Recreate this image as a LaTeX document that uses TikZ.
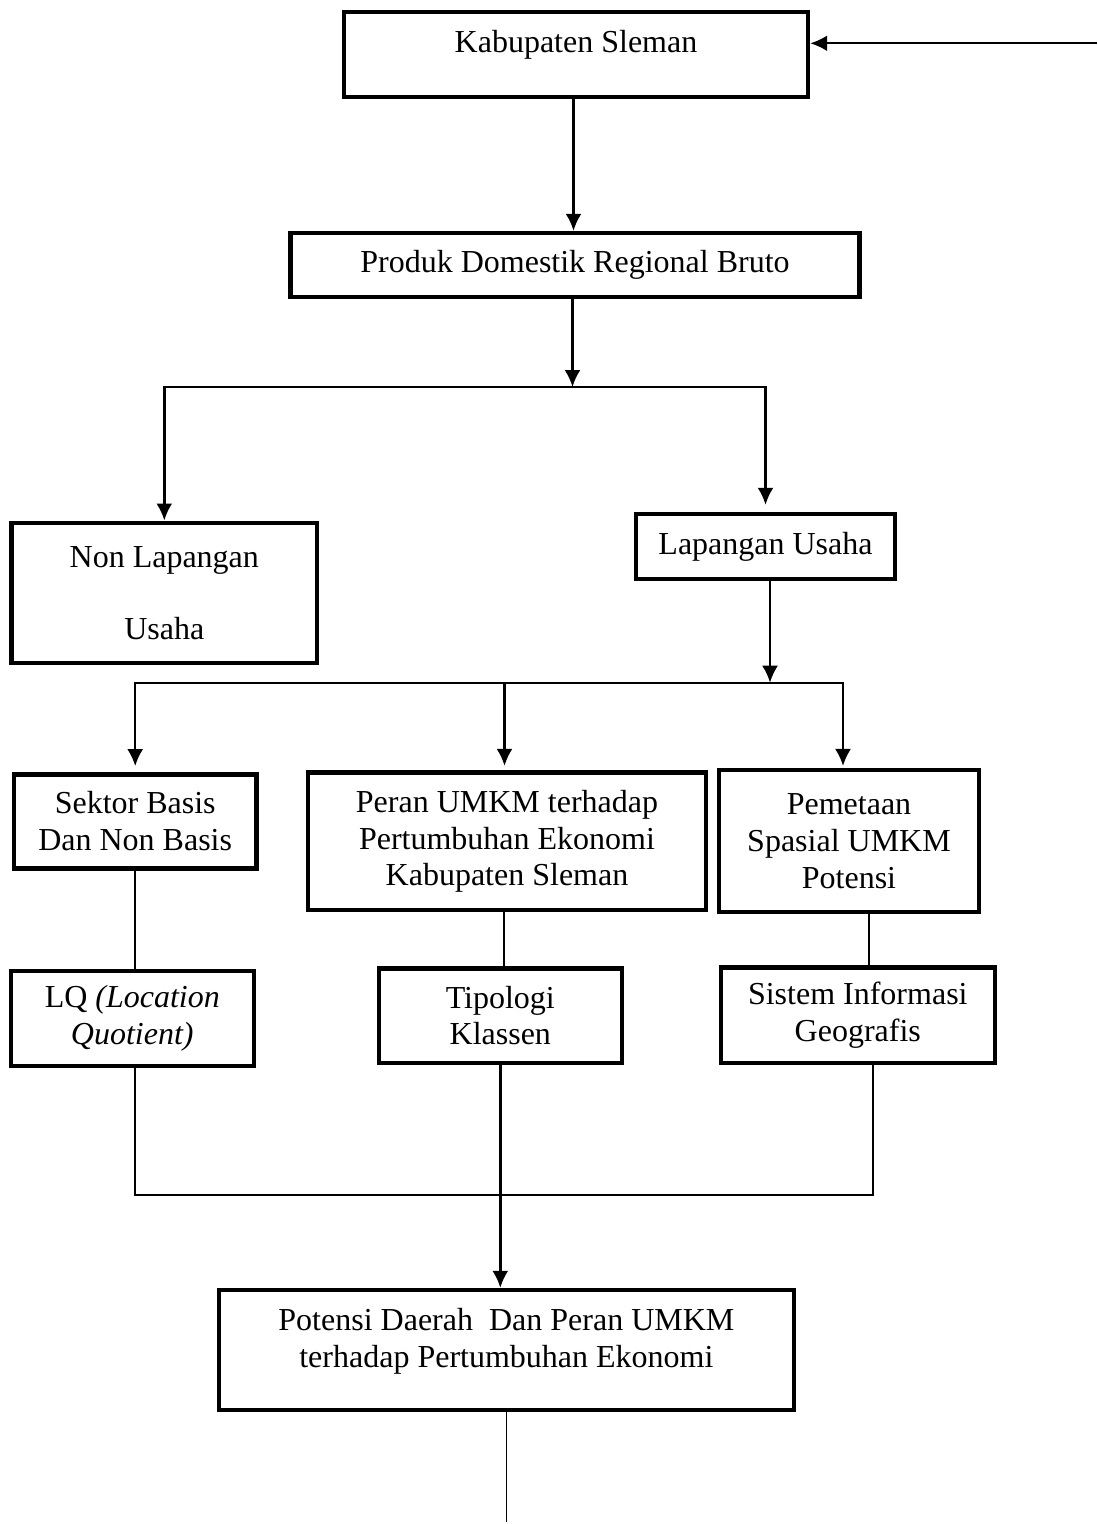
\documentclass[tikz,border=0pt]{standalone}
\usepackage{fontspec}
\setmainfont{Liberation Serif}
\usetikzlibrary{arrows.meta,calc}
\newcommand{\ganjal}[1]{\rule[-#1]{0pt}{#1}}
\tikzset{
  kotak/.style={draw, line width=2.2pt, align=center, inner sep=0pt,
    font=\fontsize{16pt}{18.4pt}\selectfont},
  panah/.style={-{Latex[length=8.5pt,width=8pt]}, line width=1.2pt},
  garis/.style={line width=0.9pt}
}

\begin{document}
\begin{tikzpicture}[x=0.5pt,y=-0.5pt]
			%%%%% START %%%%%
			\useasboundingbox (0,0) rectangle (1097,1524);
			
			\node[kotak, minimum width=232pt, minimum height=42.5pt] (kab) at (576,54.5) {Kabupaten Sleman\ganjal{13.5pt}};
			\node[kotak, minimum width=284.5pt, minimum height=32pt] (pdrb) at (575,265) {Produk Domestik Regional Bruto};
			
			\node[kotak, minimum width=152.75pt, minimum height=70pt] (nonlap) at (164.3,592.7) {Non Lapangan\\[17.6pt]Usaha};
			\node[kotak, minimum width=129.5pt, minimum height=32.5pt] (lap) at (765.5,546.5) {Lapangan Usaha};
			
			\node[kotak, minimum width=121.2pt, minimum height=47pt] (sektor) at (135.2,821.3) {Sektor Basis\\Dan Non Basis};
			\node[kotak, minimum width=199pt, minimum height=68.65pt] (peran) at (507,841.3) {Peran UMKM terhadap\\Pertumbuhan Ekonomi\\Kabupaten Sleman};
			\node[kotak, minimum width=130pt, minimum height=70.85pt] (pemetaan) at (849,841) {Pemetaan\\Spasial UMKM\\Potensi};
			
			\node[kotak, minimum width=121.5pt, minimum height=47.5pt] (lq) at (132.3,1018.5) {LQ \textit{(Location}\\\textit{Quotient)}};
			\node[kotak, minimum width=121.5pt, minimum height=47.2pt] (tipologi) at (500.3,1015.5) {Tipologi\\Klassen};
			\node[kotak, minimum width=137pt, minimum height=47.7pt] (sig) at (857.8,1015) {Sistem Informasi\\Geografis};
			
			\node[kotak, minimum width=287.5pt, minimum height=60pt] (potensi) at (506.4,1350) {Potensi Daerah~ Dan Peran UMKM\\terhadap Pertumbuhan Ekonomi\ganjal{12.5pt}};
			
			% panah atas
			\coordinate (masuk) at (1097,43.3);
			\draw[panah] (masuk) -- (masuk -| kab.east);
			\coordinate (k1) at ($(kab.south)+(-2.5,0)$);
			\draw[panah] (k1) -- (k1 |- pdrb.north);
			
			\coordinate (cabang1) at (572.5,387);
			\draw[panah] (pdrb.south -| cabang1) -- (cabang1);
			\draw[panah] (cabang1) -| (nonlap.north);
			\draw[panah, shorten >=3.5pt] (cabang1) -| (lap.north);
			
			\coordinate (cabang2) at (770,682.7);
			\draw[panah] (lap.south -| cabang2) -- (cabang2);
			\draw[panah, shorten >=3pt] (cabang2) -| (sektor.north);
			\draw[panah, shorten >=2.3pt] (cabang2) -| ($(peran.north)+(-2.5,0)$);
			\draw[panah, shorten >=1pt] (cabang2) -| ($(pemetaan.north)+(-6,0)$);
			
			% garis tengah
			\draw[garis] (sektor.south) -- (sektor.south |- lq.north);
			\coordinate (p1) at ($(peran.south)+(-3,0)$);
			\draw[garis] (p1) -- (p1 |- tipologi.north);
			\coordinate (p2) at ($(pemetaan.south)+(20,0)$);
			\draw[garis] (p2) -- (p2 |- sig.north);
			
			% gabung bawah
			\coordinate (gabung) at (501,1195);
			\draw[garis] ($(lq.south)+(3,0)$) |- (gabung);
			\coordinate (s1) at ($(sig.south)+(15,0)$);
			\draw[garis] (s1) |- (gabung);
			\draw[panah] (tipologi.south) -- (tipologi.south |- potensi.north);
			
			\coordinate (ujung) at (505.5,1522);
			\draw[garis] (potensi.south) -- (potensi.south |- ujung);
			%%%%% END %%%%%
\end{tikzpicture}
\end{document}
